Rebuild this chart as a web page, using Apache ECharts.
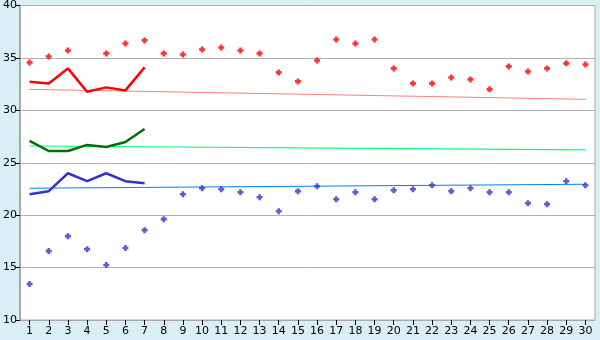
<!DOCTYPE html>
<html>
<head>
<meta charset="utf-8">
<script src="https://cdn.jsdelivr.net/npm/echarts@6/dist/echarts.min.js"></script>
<style>
html,body{margin:0;padding:0;background:#d9eef5;}
#c{width:600px;height:340px;}
</style>
</head>
<body>
<div id="c"></div>
<script>
const days = ['1','2','3','4','5','6','7','8','9','10','11','12','13','14','15','16','17','18','19','20','21','22','23','24','25','26','27','28','29','30'];
const yTicks = [10,15,20,25,30,35,40];

const redPoints = [34.57,35.14,35.71,null,35.43,36.38,36.67,35.43,35.33,35.81,36.0,35.71,35.43,33.62,32.76,34.76,36.76,36.38,36.76,34.0,32.57,32.57,33.14,32.95,32.0,34.19,33.71,34.0,34.48,34.38];
const bluePoints = [13.43,16.57,18.0,16.76,15.24,16.86,18.57,19.62,22.0,22.57,22.48,22.19,21.71,20.38,22.29,22.76,21.52,22.19,21.52,22.38,22.48,22.86,22.29,22.57,22.19,22.19,21.14,21.05,23.24,22.86];

const redLine = [32.73,32.57,34.0,31.77,32.19,31.9,34.1];
const greenLine = [27.08,26.12,26.12,26.7,26.5,26.98,28.22];
const blueLine = [22.0,22.29,24.0,23.24,24.0,23.24,23.05];

// trend lines: [first day value, last day value]
const redTrend = [32.0, 31.05];
const greenTrend = [26.6, 26.22];
const blueTrend = [22.57, 22.95];

const plus = 'path://M2,0 L5,0 L5,2 L7,2 L7,5 L5,5 L5,7 L2,7 L2,5 L0,5 L0,2 L2,2 Z';

function trend(v){ return [[days[0], v[0]], [days[days.length-1], v[1]]]; }

const chart = echarts.init(document.getElementById('c'), null, {renderer:'canvas'});
chart.setOption({
  backgroundColor: '#d9eef5',
  animation: false,
  grid: {left:20, right:5, top:5, bottom:20, show:true, backgroundColor:'#ffffff', borderColor:'#a8a8a8', borderWidth:1},
  xAxis: {
    type:'category', data:days, boundaryGap:true,
    axisLine:{show:true, lineStyle:{color:'#a8a8a8', width:1}},
    axisTick:{show:true, alignWithLabel:true, length:5, lineStyle:{color:'#000'}},
    axisLabel:{color:'#000', fontFamily:'DejaVu Sans', fontSize:11, margin:6, interval:0},
    splitLine:{show:false}
  },
  yAxis: {
    type:'value', min:yTicks[0], max:yTicks[yTicks.length-1], interval:5,
    axisLine:{show:true, lineStyle:{color:'#a8a8a8', width:2}},
    axisTick:{show:true, length:4, lineStyle:{color:'#000'}},
    axisLabel:{color:'#000', fontFamily:'DejaVu Sans', fontSize:11, margin:3},
    splitLine:{show:true, lineStyle:{color:'#b0b0b0', width:1}}
  },
  series: [
    {type:'line', data:trend(redTrend), symbol:'none', lineStyle:{color:'#ff8080', width:1}, z:2},
    {type:'line', data:trend(greenTrend), symbol:'none', lineStyle:{color:'#00ff80', width:1.2}, z:2},
    {type:'line', data:trend(blueTrend), symbol:'none', lineStyle:{color:'#0080ff', width:1}, z:2},
    {type:'line', data:redLine, symbol:'none', lineStyle:{color:'#ff0000', width:2.5}, z:3},
    {type:'line', data:greenLine, symbol:'none', lineStyle:{color:'#007000', width:2.5}, z:3},
    {type:'line', data:blueLine, symbol:'none', lineStyle:{color:'#3333cc', width:2.5}, z:3},
    {type:'scatter', data:redPoints, symbol:plus, symbolSize:6, itemStyle:{color:'#ff0000'}, z:4},
    {type:'scatter', data:bluePoints, symbol:plus, symbolSize:6, itemStyle:{color:'#3333cc'}, z:4}
  ]
});
</script>
</body>
</html>
